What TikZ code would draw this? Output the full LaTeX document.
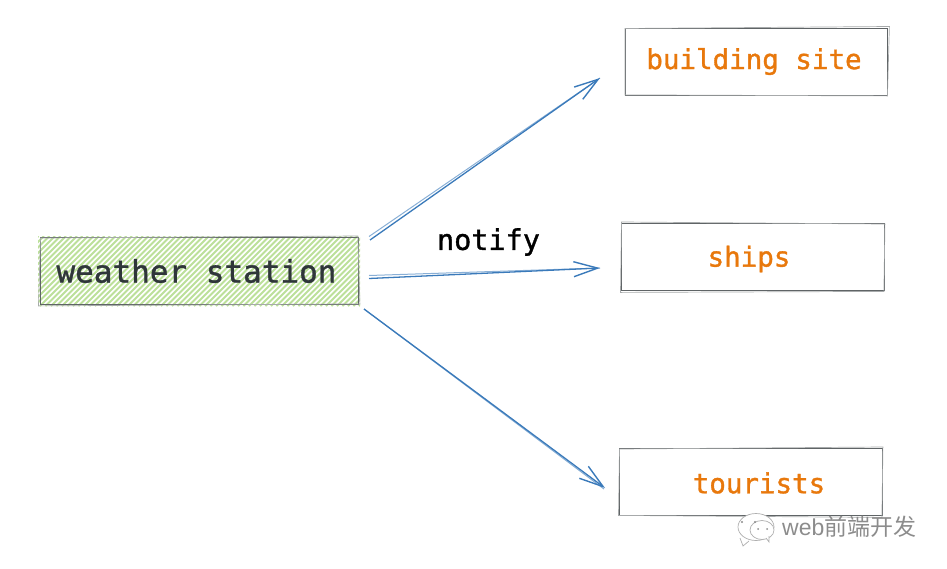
\documentclass[tikz,border=0pt]{standalone}
\usepackage{fontspec}
\setmonofont{DejaVu Sans Mono}
\newfontfamily\monomed[FakeBold=1.2]{DejaVu Sans Mono}
\newfontfamily\cjkfont{Noto Sans CJK SC}
\setmainfont{Liberation Sans}
\usetikzlibrary{arrows.meta,calc}
\definecolor{boxline}{HTML}{5F6466}
\definecolor{hatch}{HTML}{BCE09A}
\definecolor{ink}{HTML}{2F363A}
\definecolor{orangetxt}{HTML}{E8780C}
\definecolor{arrowblue}{HTML}{3A7ABA}
\definecolor{wm}{HTML}{8C8C8C}
\tikzset{
  x=1pt,y=-1pt,
  boxnode/.style={draw=boxline,line width=1.4pt,inner sep=0pt,anchor=north west},
  sketch/.style={draw=boxline!55,line width=.7pt},
  lbl/.style={font=\monomed\fontsize{#1}{#1}\selectfont,text=orangetxt,inner sep=0pt},
  link/.style={draw=arrowblue,line width=1.3pt,-{Straight Barb[length=24pt,width=15pt,line width=1.4pt]}},
  shadowlink/.style={draw=arrowblue!60,line width=1pt},
  wmline/.style={draw=wm!70,line width=.7pt,fill=white},
}
\begin{document}
\begin{tikzpicture}
\useasboundingbox (0,0) rectangle (947,568);
% weather station
\begin{scope}
  \clip (38,236) rectangle (360,306);
  \foreach \k in {-70,-64.5,...,400}{
    \draw[hatch,line width=2pt] (\k,306) -- (\k+70,236);
  }
\end{scope}
\node[boxnode,minimum width=318pt,minimum height=66.5pt] (ws) at (39.5,237) {};
\draw[sketch] ($(ws.north west)+(1,1)$) -- ($(ws.north east)+(-1,-1)$) -- ($(ws.south east)+(1,-1)$) -- ($(ws.south west)+(-1,1)$) -- cycle;
\node[font=\monomed\fontsize{31}{31}\selectfont,text=ink,inner sep=0pt] (wstxt) at (196.5,271) {weather station};
% targets
\node[boxnode,minimum width=262pt,minimum height=67pt] (bs) at (625,27.5) {};
\draw[sketch] ($(bs.north west)+(0,1)$) -- ($(bs.north east)+(1,-1)$) -- ($(bs.south east)+(-1,0)$) -- ($(bs.south west)+(0,-1)$) -- cycle;
\node[lbl=27.5] (bstxt) at (754,61.5) {building site};
\node[boxnode,minimum width=263pt,minimum height=67pt] (sh) at (620.5,223) {};
\draw[sketch] ($(sh.north west)+(1,-1)$) -- ($(sh.north east)+(0,1)$) -- ($(sh.south east)+(-1,0)$) -- ($(sh.south west)+(0,1)$) -- cycle;
\node[lbl=27.5] (shtxt) at (749,259) {ships};
\node[boxnode,minimum width=263pt,minimum height=67pt] (to) at (618.5,448) {};
\draw[sketch] ($(to.north west)+(1,1)$) -- ($(to.north east)+(0,-1)$) -- ($(to.south east)+(-1,1)$) -- ($(to.south west)+(0,-1)$) -- cycle;
\node[lbl=27.5] (totxt) at (759,483) {tourists};
% connectors
\coordinate (a1s) at (370,240);
\coordinate (a1e) at (600,78);
\coordinate (a2s) at (369,278.5);
\coordinate (a2e) at (600,268);
\coordinate (a3s) at (364,309);
\coordinate (a3e) at (605,488);
\draw[shadowlink] ($(a1s)+(-1,-3.5)$) -- (a1e);
\draw[link] (a1s) -- (a1e);
\draw[shadowlink] ($(a2s)+(0,-3)$) -- (a2e);
\draw[link] (a2s) -- (a2e);
\draw[shadowlink] (a3s) -- ($(a3e)+(-1,1)$);
\draw[link] (a3s) -- (a3e);
\node[font=\monomed\fontsize{28.5}{28.5}\selectfont,text=black,inner sep=0pt] (nt) at (488.5,242) {notify};
% watermark
\node[font=\fontsize{23}{23}\selectfont,text=wm,inner sep=0pt,anchor=west] (wmtxt) at (782,527) {web\cjkfont 前端开发};
\draw[wmline] (756,527) ellipse [x radius=18,y radius=13.5];
\draw[wmline] (740,538) -- (743,546) -- (749,541);
\draw[wmline] (762,530) ellipse [x radius=12,y radius=9.5];
\draw[wmline] (766,538) -- (769,542) -- (769,536);
\fill[wm] (742,522) circle (1.2) (755,522) circle (1.2) (758,529) circle (1) (767,529) circle (1);
\end{tikzpicture}
\end{document}
